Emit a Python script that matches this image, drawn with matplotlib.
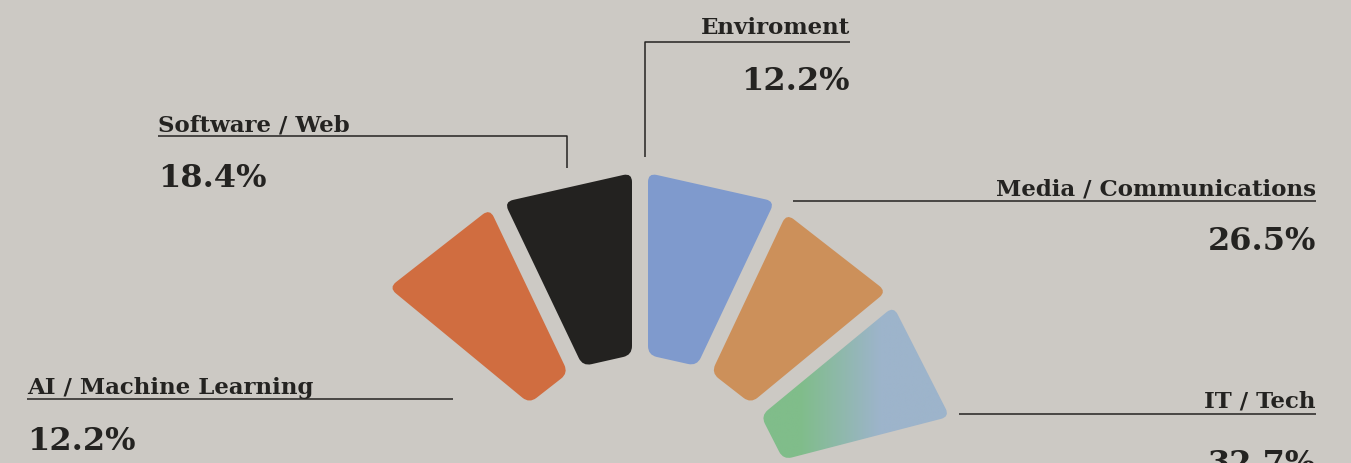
import numpy as np
import matplotlib
matplotlib.use('Agg')
import matplotlib.pyplot as plt
from matplotlib.path import Path
from matplotlib.patches import PathPatch
from matplotlib.colors import LinearSegmentedColormap

# data
categories = ["AI / Machine Learning", "Software / Web", "Enviroment",
              "Media / Communications", "IT / Tech"]
shares = [12.2, 18.4, 12.2, 26.5, 32.7]
colors = ["#d06d40", "#232220", "#7f9acd", "#cc905a", None]
gradient = ["#80bd8a", "#9db4cb"]

BG = "#ccc9c4"
INK = "#242321"

# fan geometry (pixel space, y down)
cx, cy = 640, 505
r_in = 150
r_out = [332, 332, 332, 326, 322]
edges = [-50.5, -25.5, 0, 25.3, 50.5, 75.5]   # degrees from vertical, clockwise
gap = 16
corner = 9


def u(a):
    a = np.radians(a)
    return np.array([np.sin(a), -np.cos(a)])


def n(a):
    a = np.radians(a)
    return np.array([np.cos(a), np.sin(a)])


def wedge_pts(a0, a1, ro):
    c = np.array([cx, cy], float)
    h = gap / 2
    return [c + ro * u(a0) + h * n(a0),
            c + ro * u(a1) - h * n(a1),
            c + r_in * u(a1) - h * n(a1),
            c + r_in * u(a0) + h * n(a0)]


def rounded_path(pts, r):
    verts, codes = [], []
    k = len(pts)
    for i in range(k):
        p = pts[i]
        a = pts[i - 1]
        b = pts[(i + 1) % k]
        p1 = p + r * (a - p) / np.linalg.norm(a - p)
        p2 = p + r * (b - p) / np.linalg.norm(b - p)
        verts.append(p1)
        codes.append(Path.MOVETO if i == 0 else Path.LINETO)
        verts += [p, p2]
        codes += [Path.CURVE3, Path.CURVE3]
    verts.append(verts[0])
    codes.append(Path.CLOSEPOLY)
    return Path(verts, codes)


W, H = 1351, 463
fig = plt.figure(figsize=(W / 100, H / 100), dpi=100)
fig.patch.set_facecolor(BG)
ax = fig.add_axes([0, 0, 1, 1])
ax.set_facecolor(BG)
ax.set_xlim(0, W)
ax.set_ylim(H, 0)
ax.axis('off')

for i, cat in enumerate(categories):
    pts = wedge_pts(edges[i], edges[i + 1], r_out[i])
    path = rounded_path(pts, corner)
    if colors[i] is not None:
        ax.add_patch(PathPatch(path, facecolor=colors[i], edgecolor='none'))
    else:
        patch = PathPatch(path, facecolor='none', edgecolor='none')
        ax.add_patch(patch)
        cmap = LinearSegmentedColormap.from_list('g', gradient)
        xs = np.array([p[0] for p in pts])
        ys = np.array([p[1] for p in pts])
        grad = np.clip((np.linspace(xs.min(), xs.max(), 300) - 800) / 80, 0, 1)
        im = ax.imshow(grad[None, :], cmap=cmap, aspect='auto',
                       extent=(xs.min(), xs.max(), ys.max(), ys.min()),
                       interpolation='bilinear', vmin=0, vmax=1)
        im.set_clip_path(patch)

# labels: (x, label baseline, pct baseline, align, leader line points)
layout = [
    (27, 394, 450, 'left', [(27, 399), (453, 399)]),
    (158, 131, 187, 'left', [(158, 136), (567, 136), (567, 168)]),
    (850, 34, 90, 'right', [(850, 42), (645, 42), (645, 157)]),
    (1316, 195, 250, 'right', [(1316, 201), (793, 201)]),
    (1316, 408, 473, 'right', [(1316, 414), (959, 414)]),
]

font = 'DejaVu Serif'
for cat, val, (x, yl, yp, ha, line) in zip(categories, shares, layout):
    ax.text(x, yl, cat, ha=ha, va='baseline', fontsize=16.5, fontweight='bold',
            family=font, color=INK)
    ax.text(x, yp, f"{val:.1f}%", ha=ha, va='baseline', fontsize=23,
            fontweight='bold', family=font, color=INK)
    lx, ly = zip(*line)
    ax.plot(lx, ly, color=INK, lw=1.1, solid_capstyle='butt')

fig.savefig('out.png', dpi=100, facecolor=BG)
